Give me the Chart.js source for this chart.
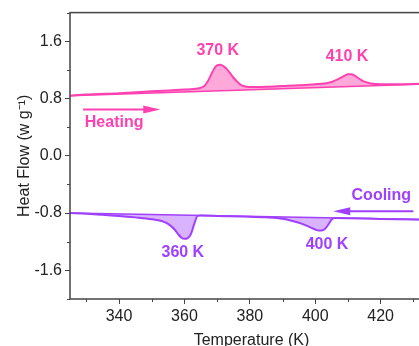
<!DOCTYPE html>
<html>
<head>
<meta charset="utf-8">
<script src="https://cdn.jsdelivr.net/npm/chart.js@4.4.1/dist/chart.umd.min.js"></script>
<style>
  html, body { margin: 0; padding: 0; overflow: hidden; background: #fff; }
  #wrap { width: 419px; height: 346px; overflow: hidden; }
</style>
</head>
<body>
<div id="wrap"><canvas id="dsc" width="440" height="352"></canvas></div>
<script>
// heating run (upper curve) - temperature in K, heat flow in W/g
const heatT = [325, 330, 340, 350, 360, 364, 366, 367, 368, 369, 370, 371, 372, 373, 374, 375, 376, 377, 378, 380, 385, 390, 395, 400, 403, 405, 407, 409, 410, 411, 412, 413, 414, 415, 417, 420, 425, 436];
const heatFlow = [0.84, 0.855, 0.875, 0.90, 0.925, 0.94, 0.97, 1.03, 1.12, 1.21, 1.265, 1.27, 1.25, 1.21, 1.15, 1.09, 1.04, 1.00, 0.975, 0.96, 0.965, 0.975, 0.985, 1.00, 1.01, 1.03, 1.07, 1.12, 1.14, 1.14, 1.12, 1.09, 1.06, 1.035, 1.01, 1.0, 1.0, 1.01];
const heatBaseT = [325, 436];
const heatBase = [0.84, 1.005];

// cooling run (lower curve)
const coolT = [325, 330, 335, 340, 345, 350, 353, 355, 357, 358, 359, 360, 361, 362, 363, 364, 365, 370, 380, 385, 390, 393, 396, 398, 400, 401, 402, 403, 404, 405, 406, 410, 420, 436];
const coolFlow = [-0.80, -0.81, -0.825, -0.84, -0.86, -0.885, -0.91, -0.95, -1.03, -1.09, -1.14, -1.16, -1.15, -1.09, -0.95, -0.84, -0.834, -0.84, -0.85, -0.86, -0.88, -0.91, -0.95, -0.99, -1.03, -1.045, -1.045, -1.02, -0.96, -0.89, -0.87, -0.872, -0.881, -0.894];
const coolBaseT = [325, 436];
const coolBase = [-0.80, -0.894];

// peak labels: [text, T, value]
const peakLabels = [
    ['370 K', 370.2, 1.47],
    ['410 K', 409.7, 1.39],
    ['360 K', 359.5, -1.345],
    ['400 K', 403.6, -1.24]
];
const pink = 'rgb(255,64,176)';
const purple = 'rgb(160,64,255)';

function pts(xs, ys) {
    return xs.map((x, i) => ({x: x, y: ys[i]}));
}

// frame, minor ticks, arrows and text labels
const extras = {
    id: 'extras',
    afterDatasetsDraw(chart) {
        const ctx = chart.ctx;
        const a = chart.chartArea;
        const sx = chart.scales.x, sy = chart.scales.y;
        ctx.save();
        ctx.strokeStyle = '#444';
        ctx.lineWidth = 1.5;
        ctx.strokeRect(a.left, a.top, a.right - a.left, a.bottom - a.top);

        // minor ticks
        ctx.lineWidth = 1;
        for (let t = 330; t <= 436; t += 20) {
            const px = Math.round(sx.getPixelForValue(t)) + 0.5;
            ctx.beginPath(); ctx.moveTo(px, a.bottom); ctx.lineTo(px, a.bottom + 3); ctx.stroke();
        }
        for (let v = -2.0; v <= 2.01; v += 0.8) {
            const py = Math.round(sy.getPixelForValue(v)) + 0.5;
            ctx.beginPath(); ctx.moveTo(a.left, py); ctx.lineTo(a.left - 3, py); ctx.stroke();
        }

        // arrows
        function arrow(t0, t1, v, color) {
            const x0 = sx.getPixelForValue(t0), x1 = sx.getPixelForValue(t1);
            const y = sy.getPixelForValue(v);
            const dir = x1 > x0 ? 1 : -1;
            ctx.strokeStyle = color;
            ctx.fillStyle = color;
            ctx.lineWidth = 2;
            ctx.beginPath(); ctx.moveTo(x0, y); ctx.lineTo(x1 - dir * 10, y); ctx.stroke();
            ctx.beginPath();
            ctx.moveTo(x1, y);
            ctx.lineTo(x1 - dir * 17, y - 4);
            ctx.lineTo(x1 - dir * 17, y + 4);
            ctx.closePath();
            ctx.fill();
        }
        arrow(329, 352.6, 0.648, pink);
        arrow(430, 405.5, -0.775, purple);

        ctx.font = 'bold 16px "Liberation Sans", Arial, sans-serif';
        ctx.textAlign = 'center';
        ctx.textBaseline = 'middle';
        peakLabels.forEach(function(l) {
            ctx.fillStyle = l[2] > 0 ? pink : purple;
            ctx.fillText(l[0], sx.getPixelForValue(l[1]), sy.getPixelForValue(l[2]));
        });
        ctx.fillStyle = pink;
        ctx.fillText('Heating', sx.getPixelForValue(338.5), sy.getPixelForValue(0.465));
        ctx.fillStyle = purple;
        ctx.fillText('Cooling', sx.getPixelForValue(420.2), sy.getPixelForValue(-0.56));
        ctx.restore();
    }
};

const ctx = document.getElementById('dsc').getContext('2d');
new Chart(ctx, {
    type: 'line',
    data: {
        datasets: [{
            data: pts(heatBaseT, heatBase),
            borderColor: pink,
            borderWidth: 1.5,
            pointRadius: 0,
            fill: false
        }, {
            data: pts(heatT, heatFlow),
            borderColor: pink,
            borderWidth: 2,
            pointRadius: 0,
            cubicInterpolationMode: 'monotone',
            backgroundColor: 'rgba(255,64,176,0.45)',
            fill: '-1'
        }, {
            data: pts(coolBaseT, coolBase),
            borderColor: purple,
            borderWidth: 1.5,
            pointRadius: 0,
            fill: false
        }, {
            data: pts(coolT, coolFlow),
            borderColor: purple,
            borderWidth: 2,
            pointRadius: 0,
            cubicInterpolationMode: 'monotone',
            backgroundColor: 'rgba(160,64,255,0.4)',
            fill: '-1'
        }]
    },
    options: {
        responsive: false,
        animation: false,
        layout: { padding: { left: 0, right: 7, top: 11, bottom: 0 } },
        plugins: {
            legend: { display: false },
            tooltip: { enabled: false }
        },
        scales: {
            x: {
                type: 'linear',
                min: 325,
                max: 436,
                afterFit: function(s) { s.height = 53; },
                border: { display: false },
                grid: { drawOnChartArea: false, drawTicks: true, tickLength: 5, color: '#444',
                    tickColor: function(c) { return c.tick && c.tick.value % 20 === 0 ? '#444' : 'rgba(0,0,0,0)'; } },
                ticks: {
                    stepSize: 10,
                    includeBounds: false,
                    autoSkip: false,
                    maxRotation: 0,
                    padding: 3,
                    color: '#222',
                    font: { family: '"Liberation Sans", Arial, sans-serif', size: 16 },
                    callback: function(v) { return v % 20 === 0 ? String(v) : ''; }
                },
                title: {
                    display: true,
                    text: 'Temperature (K)',
                    color: '#222',
                    padding: { top: 0, bottom: 2 },
                    font: { family: '"Liberation Sans", Arial, sans-serif', size: 16 }
                }
            },
            y: {
                min: -2,
                max: 2,
                afterFit: function(s) { s.width = 70; },
                border: { display: false },
                grid: { drawOnChartArea: false, drawTicks: true, tickLength: 5, color: '#444',
                    tickColor: function(c) { return c.tick && Math.round(c.tick.value / 0.4) % 2 === 0 ? '#444' : 'rgba(0,0,0,0)'; } },
                ticks: {
                    stepSize: 0.4,
                    includeBounds: false,
                    autoSkip: false,
                    padding: 3,
                    color: '#222',
                    font: { family: '"Liberation Sans", Arial, sans-serif', size: 16 },
                    callback: function(v) { return Math.round(v / 0.4) % 2 === 0 ? v.toFixed(1) : ''; }
                },
                title: {
                    display: true,
                    text: 'Heat Flow (w g⁻¹)',
                    color: '#222',
                    padding: { top: 15, bottom: 0 },
                    font: { family: '"Liberation Sans", Arial, sans-serif', size: 16 }
                }
            }
        }
    },
    plugins: [extras]
});
</script>
</body>
</html>
